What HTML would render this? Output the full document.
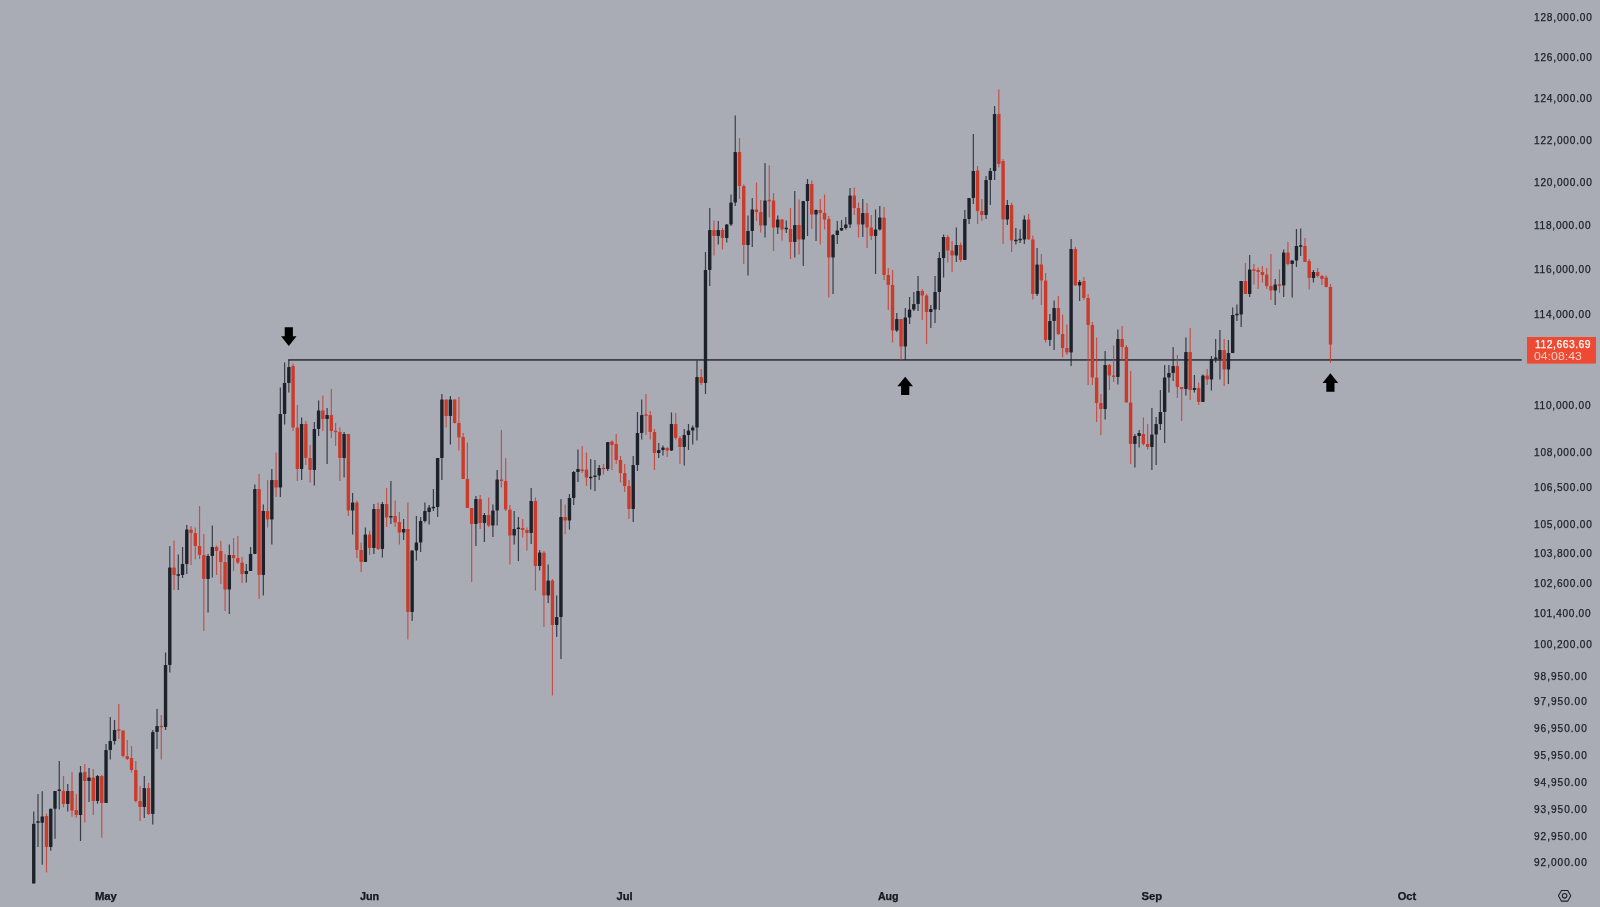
<!DOCTYPE html>
<html lang="en"><head><meta charset="utf-8"><title>BTC chart</title>
<style>html,body{margin:0;padding:0;background:#a9acb5;}body{width:1600px;height:907px;overflow:hidden;}svg{display:block;}text{font-family:"Liberation Sans",Arial,sans-serif;}</style></head><body>
<svg width="1600" height="907" viewBox="0 0 1600 907">
<defs><filter id="sf" x="-5%" y="-5%" width="110%" height="110%"><feGaussianBlur stdDeviation="0.55 0.35"/></filter><filter id="tf" x="-2%" y="-20%" width="104%" height="140%"><feGaussianBlur stdDeviation="0.28"/></filter></defs>
<rect width="1600" height="907" fill="#a9acb5"/>
<rect x="288.1" y="359.15" width="1233.6" height="1.55" fill="#2d303b"/>
<g filter="url(#sf)">
<g fill="#1e212b" opacity="0.8"><rect x="33.15" y="811.5" width="1.2" height="71.9"/><rect x="37.40" y="794.0" width="1.2" height="53.0"/><rect x="41.65" y="791.2" width="1.2" height="73.5"/><rect x="50.16" y="808.7" width="1.2" height="42.0"/><rect x="54.41" y="791.0" width="1.2" height="47.8"/><rect x="58.66" y="761.0" width="1.2" height="48.4"/><rect x="67.16" y="784.0" width="1.2" height="27.5"/><rect x="79.92" y="766.0" width="1.2" height="75.0"/><rect x="88.42" y="768.0" width="1.2" height="34.0"/><rect x="96.92" y="775.0" width="1.2" height="28.8"/><rect x="105.43" y="744.0" width="1.2" height="59.0"/><rect x="109.68" y="717.0" width="1.2" height="42.5"/><rect x="113.93" y="720.0" width="1.2" height="24.5"/><rect x="143.69" y="776.0" width="1.2" height="42.0"/><rect x="152.19" y="730.0" width="1.2" height="94.5"/><rect x="156.44" y="709.0" width="1.2" height="40.0"/><rect x="164.95" y="652.5" width="1.2" height="77.5"/><rect x="169.20" y="546.0" width="1.2" height="126.5"/><rect x="177.70" y="554.5" width="1.2" height="35.5"/><rect x="181.95" y="547.0" width="1.2" height="31.0"/><rect x="186.20" y="525.0" width="1.2" height="49.0"/><rect x="207.46" y="554.0" width="1.2" height="58.5"/><rect x="211.71" y="525.5" width="1.2" height="52.0"/><rect x="228.72" y="544.5" width="1.2" height="69.5"/><rect x="245.72" y="564.0" width="1.2" height="18.5"/><rect x="249.98" y="547.0" width="1.2" height="24.0"/><rect x="254.23" y="484.5" width="1.2" height="69.5"/><rect x="262.73" y="504.5" width="1.2" height="91.0"/><rect x="271.23" y="469.0" width="1.2" height="75.5"/><rect x="279.74" y="387.5" width="1.2" height="109.5"/><rect x="283.99" y="362.5" width="1.2" height="62.0"/><rect x="288.24" y="360.0" width="1.2" height="32.5"/><rect x="300.99" y="417.5" width="1.2" height="62.5"/><rect x="313.75" y="422.0" width="1.2" height="63.5"/><rect x="318.00" y="400.5" width="1.2" height="35.5"/><rect x="326.50" y="408.0" width="1.2" height="56.0"/><rect x="343.51" y="432.0" width="1.2" height="45.5"/><rect x="352.01" y="493.0" width="1.2" height="41.5"/><rect x="364.77" y="527.5" width="1.2" height="34.5"/><rect x="373.27" y="504.0" width="1.2" height="50.0"/><rect x="381.77" y="502.0" width="1.2" height="55.5"/><rect x="390.28" y="481.0" width="1.2" height="43.0"/><rect x="403.03" y="519.0" width="1.2" height="21.0"/><rect x="411.53" y="550.5" width="1.2" height="70.5"/><rect x="415.78" y="516.0" width="1.2" height="44.5"/><rect x="420.04" y="517.0" width="1.2" height="35.0"/><rect x="424.29" y="502.5" width="1.2" height="20.0"/><rect x="428.54" y="505.0" width="1.2" height="19.5"/><rect x="432.79" y="489.0" width="1.2" height="22.0"/><rect x="437.04" y="458.0" width="1.2" height="59.0"/><rect x="441.29" y="394.0" width="1.2" height="86.0"/><rect x="449.80" y="396.0" width="1.2" height="48.5"/><rect x="475.31" y="496.0" width="1.2" height="50.0"/><rect x="483.81" y="513.0" width="1.2" height="29.0"/><rect x="492.31" y="504.5" width="1.2" height="32.5"/><rect x="496.56" y="470.0" width="1.2" height="55.5"/><rect x="513.57" y="511.0" width="1.2" height="33.5"/><rect x="517.82" y="517.0" width="1.2" height="44.0"/><rect x="530.58" y="488.0" width="1.2" height="56.0"/><rect x="539.08" y="550.0" width="1.2" height="20.5"/><rect x="547.58" y="564.5" width="1.2" height="38.5"/><rect x="556.08" y="595.5" width="1.2" height="41.5"/><rect x="560.34" y="499.0" width="1.2" height="160.0"/><rect x="568.84" y="494.0" width="1.2" height="35.5"/><rect x="573.09" y="471.0" width="1.2" height="34.0"/><rect x="577.34" y="449.5" width="1.2" height="32.5"/><rect x="590.10" y="459.0" width="1.2" height="30.5"/><rect x="594.35" y="460.0" width="1.2" height="31.0"/><rect x="598.60" y="465.0" width="1.2" height="15.0"/><rect x="607.10" y="442.0" width="1.2" height="29.0"/><rect x="632.61" y="456.0" width="1.2" height="66.0"/><rect x="636.86" y="412.0" width="1.2" height="59.0"/><rect x="641.11" y="399.5" width="1.2" height="40.0"/><rect x="658.12" y="443.0" width="1.2" height="15.0"/><rect x="662.37" y="445.5" width="1.2" height="10.0"/><rect x="670.88" y="412.5" width="1.2" height="38.5"/><rect x="683.63" y="429.0" width="1.2" height="36.5"/><rect x="687.88" y="424.0" width="1.2" height="26.0"/><rect x="692.13" y="425.5" width="1.2" height="19.0"/><rect x="696.38" y="360.5" width="1.2" height="80.0"/><rect x="704.89" y="252.0" width="1.2" height="142.0"/><rect x="709.14" y="208.0" width="1.2" height="78.0"/><rect x="717.64" y="221.0" width="1.2" height="23.5"/><rect x="726.14" y="224.0" width="1.2" height="18.5"/><rect x="730.40" y="194.5" width="1.2" height="31.5"/><rect x="734.65" y="115.5" width="1.2" height="90.5"/><rect x="747.40" y="215.5" width="1.2" height="60.0"/><rect x="751.65" y="198.0" width="1.2" height="49.0"/><rect x="764.41" y="163.0" width="1.2" height="74.5"/><rect x="777.16" y="215.5" width="1.2" height="18.5"/><rect x="785.67" y="220.5" width="1.2" height="12.5"/><rect x="794.17" y="191.0" width="1.2" height="66.5"/><rect x="802.67" y="201.0" width="1.2" height="65.0"/><rect x="806.92" y="179.0" width="1.2" height="57.0"/><rect x="815.43" y="209.5" width="1.2" height="31.5"/><rect x="832.43" y="234.0" width="1.2" height="60.0"/><rect x="836.68" y="221.0" width="1.2" height="23.0"/><rect x="840.93" y="220.0" width="1.2" height="11.0"/><rect x="845.19" y="217.0" width="1.2" height="12.5"/><rect x="849.44" y="188.0" width="1.2" height="40.0"/><rect x="862.19" y="199.0" width="1.2" height="38.0"/><rect x="874.95" y="209.5" width="1.2" height="64.5"/><rect x="879.20" y="206.0" width="1.2" height="24.5"/><rect x="896.20" y="313.0" width="1.2" height="19.0"/><rect x="904.71" y="308.0" width="1.2" height="52.0"/><rect x="908.96" y="297.0" width="1.2" height="27.0"/><rect x="913.21" y="292.0" width="1.2" height="19.0"/><rect x="917.46" y="276.0" width="1.2" height="35.0"/><rect x="930.22" y="305.0" width="1.2" height="23.0"/><rect x="934.47" y="276.0" width="1.2" height="47.0"/><rect x="938.72" y="252.0" width="1.2" height="58.0"/><rect x="942.97" y="234.5" width="1.2" height="43.0"/><rect x="955.73" y="227.5" width="1.2" height="34.5"/><rect x="964.23" y="210.0" width="1.2" height="50.0"/><rect x="968.48" y="198.0" width="1.2" height="26.0"/><rect x="972.73" y="134.0" width="1.2" height="70.0"/><rect x="985.49" y="176.0" width="1.2" height="43.0"/><rect x="989.74" y="168.0" width="1.2" height="37.0"/><rect x="993.99" y="106.0" width="1.2" height="74.0"/><rect x="1006.74" y="200.0" width="1.2" height="25.0"/><rect x="1015.25" y="228.0" width="1.2" height="16.5"/><rect x="1019.50" y="229.5" width="1.2" height="13.5"/><rect x="1023.75" y="215.5" width="1.2" height="28.5"/><rect x="1036.50" y="248.0" width="1.2" height="48.0"/><rect x="1049.26" y="314.0" width="1.2" height="32.0"/><rect x="1053.51" y="300.5" width="1.2" height="49.5"/><rect x="1070.52" y="239.0" width="1.2" height="127.0"/><rect x="1079.02" y="280.0" width="1.2" height="21.0"/><rect x="1104.53" y="351.0" width="1.2" height="68.5"/><rect x="1117.28" y="329.5" width="1.2" height="55.0"/><rect x="1134.29" y="434.0" width="1.2" height="33.5"/><rect x="1138.54" y="430.0" width="1.2" height="17.5"/><rect x="1151.29" y="408.0" width="1.2" height="62.0"/><rect x="1155.55" y="417.0" width="1.2" height="48.0"/><rect x="1159.80" y="390.0" width="1.2" height="40.0"/><rect x="1164.05" y="365.0" width="1.2" height="78.0"/><rect x="1168.30" y="365.0" width="1.2" height="27.5"/><rect x="1172.55" y="347.0" width="1.2" height="34.0"/><rect x="1185.31" y="337.5" width="1.2" height="58.0"/><rect x="1193.81" y="375.0" width="1.2" height="17.5"/><rect x="1202.31" y="374.5" width="1.2" height="27.5"/><rect x="1210.82" y="356.0" width="1.2" height="34.5"/><rect x="1215.07" y="339.0" width="1.2" height="23.5"/><rect x="1219.32" y="330.0" width="1.2" height="49.5"/><rect x="1227.82" y="340.0" width="1.2" height="44.0"/><rect x="1232.07" y="307.5" width="1.2" height="45.5"/><rect x="1236.32" y="304.5" width="1.2" height="16.5"/><rect x="1240.58" y="281.0" width="1.2" height="46.0"/><rect x="1249.08" y="255.0" width="1.2" height="42.0"/><rect x="1274.59" y="279.0" width="1.2" height="26.0"/><rect x="1283.09" y="249.5" width="1.2" height="47.5"/><rect x="1291.59" y="260.5" width="1.2" height="37.0"/><rect x="1295.85" y="229.0" width="1.2" height="38.0"/><rect x="1300.10" y="228.5" width="1.2" height="27.5"/><rect x="1312.85" y="270.0" width="1.2" height="12.5"/></g>
<g fill="#cb3a2c" opacity="0.8"><rect x="45.90" y="813.6" width="1.2" height="58.8"/><rect x="62.91" y="776.0" width="1.2" height="31.3"/><rect x="71.41" y="772.0" width="1.2" height="44.7"/><rect x="75.67" y="794.0" width="1.2" height="23.8"/><rect x="84.17" y="764.0" width="1.2" height="58.7"/><rect x="92.67" y="769.0" width="1.2" height="46.0"/><rect x="101.17" y="775.0" width="1.2" height="62.7"/><rect x="118.18" y="704.0" width="1.2" height="35.0"/><rect x="122.43" y="730.5" width="1.2" height="27.0"/><rect x="126.68" y="740.0" width="1.2" height="20.0"/><rect x="130.93" y="746.0" width="1.2" height="26.5"/><rect x="135.19" y="761.0" width="1.2" height="41.5"/><rect x="139.44" y="786.0" width="1.2" height="35.0"/><rect x="147.94" y="783.0" width="1.2" height="32.0"/><rect x="160.70" y="715.0" width="1.2" height="44.5"/><rect x="173.45" y="540.5" width="1.2" height="49.5"/><rect x="190.46" y="526.0" width="1.2" height="39.0"/><rect x="194.71" y="527.5" width="1.2" height="32.0"/><rect x="198.96" y="506.0" width="1.2" height="53.0"/><rect x="203.21" y="534.0" width="1.2" height="97.0"/><rect x="215.96" y="545.5" width="1.2" height="29.5"/><rect x="220.22" y="541.0" width="1.2" height="43.0"/><rect x="224.47" y="554.0" width="1.2" height="57.0"/><rect x="232.97" y="538.0" width="1.2" height="33.0"/><rect x="237.22" y="536.0" width="1.2" height="28.0"/><rect x="241.47" y="557.0" width="1.2" height="26.0"/><rect x="258.48" y="474.0" width="1.2" height="125.0"/><rect x="266.98" y="480.0" width="1.2" height="47.5"/><rect x="275.49" y="452.5" width="1.2" height="44.5"/><rect x="292.49" y="363.6" width="1.2" height="67.4"/><rect x="296.74" y="405.0" width="1.2" height="76.0"/><rect x="305.25" y="421.0" width="1.2" height="44.0"/><rect x="309.50" y="445.0" width="1.2" height="37.5"/><rect x="322.25" y="395.5" width="1.2" height="35.5"/><rect x="330.75" y="389.0" width="1.2" height="49.0"/><rect x="335.01" y="423.0" width="1.2" height="23.0"/><rect x="339.26" y="427.5" width="1.2" height="53.5"/><rect x="347.76" y="434.0" width="1.2" height="82.0"/><rect x="356.26" y="500.5" width="1.2" height="57.5"/><rect x="360.52" y="542.5" width="1.2" height="29.5"/><rect x="369.02" y="531.0" width="1.2" height="24.0"/><rect x="377.52" y="502.5" width="1.2" height="47.5"/><rect x="386.02" y="488.0" width="1.2" height="39.0"/><rect x="394.53" y="500.5" width="1.2" height="26.5"/><rect x="398.78" y="512.0" width="1.2" height="32.5"/><rect x="407.28" y="502.5" width="1.2" height="137.0"/><rect x="445.55" y="399.5" width="1.2" height="28.0"/><rect x="454.05" y="399.5" width="1.2" height="24.0"/><rect x="458.30" y="397.0" width="1.2" height="53.5"/><rect x="462.55" y="433.0" width="1.2" height="46.0"/><rect x="466.80" y="442.5" width="1.2" height="65.5"/><rect x="471.05" y="508.0" width="1.2" height="74.0"/><rect x="479.56" y="495.0" width="1.2" height="34.0"/><rect x="488.06" y="497.5" width="1.2" height="29.5"/><rect x="500.81" y="430.0" width="1.2" height="57.5"/><rect x="505.07" y="458.0" width="1.2" height="53.0"/><rect x="509.32" y="505.0" width="1.2" height="59.5"/><rect x="522.07" y="519.0" width="1.2" height="18.5"/><rect x="526.32" y="527.5" width="1.2" height="23.0"/><rect x="534.83" y="497.5" width="1.2" height="93.0"/><rect x="543.33" y="551.0" width="1.2" height="76.0"/><rect x="551.83" y="579.0" width="1.2" height="116.5"/><rect x="564.59" y="504.5" width="1.2" height="29.5"/><rect x="581.59" y="446.0" width="1.2" height="27.0"/><rect x="585.85" y="452.5" width="1.2" height="33.5"/><rect x="602.85" y="464.0" width="1.2" height="10.5"/><rect x="611.35" y="440.5" width="1.2" height="29.5"/><rect x="615.61" y="434.0" width="1.2" height="30.0"/><rect x="619.86" y="456.0" width="1.2" height="26.5"/><rect x="624.11" y="464.0" width="1.2" height="28.0"/><rect x="628.36" y="480.0" width="1.2" height="39.0"/><rect x="645.37" y="394.0" width="1.2" height="41.0"/><rect x="649.62" y="411.0" width="1.2" height="28.5"/><rect x="653.87" y="429.0" width="1.2" height="41.0"/><rect x="666.62" y="447.0" width="1.2" height="10.0"/><rect x="675.13" y="413.0" width="1.2" height="26.5"/><rect x="679.38" y="436.0" width="1.2" height="28.0"/><rect x="700.64" y="369.0" width="1.2" height="16.0"/><rect x="713.39" y="220.5" width="1.2" height="35.0"/><rect x="721.89" y="228.0" width="1.2" height="21.5"/><rect x="738.90" y="138.0" width="1.2" height="61.0"/><rect x="743.15" y="184.5" width="1.2" height="79.5"/><rect x="755.90" y="182.5" width="1.2" height="38.5"/><rect x="760.16" y="200.0" width="1.2" height="32.5"/><rect x="768.66" y="165.5" width="1.2" height="52.0"/><rect x="772.91" y="193.0" width="1.2" height="58.0"/><rect x="781.41" y="219.0" width="1.2" height="21.5"/><rect x="789.92" y="208.0" width="1.2" height="51.0"/><rect x="798.42" y="199.5" width="1.2" height="55.0"/><rect x="811.17" y="180.5" width="1.2" height="48.5"/><rect x="819.68" y="199.0" width="1.2" height="45.5"/><rect x="823.93" y="194.5" width="1.2" height="35.0"/><rect x="828.18" y="216.0" width="1.2" height="81.5"/><rect x="853.69" y="187.5" width="1.2" height="27.5"/><rect x="857.94" y="202.5" width="1.2" height="35.0"/><rect x="866.44" y="203.0" width="1.2" height="45.0"/><rect x="870.70" y="215.0" width="1.2" height="25.0"/><rect x="883.45" y="207.0" width="1.2" height="73.0"/><rect x="887.70" y="268.0" width="1.2" height="42.0"/><rect x="891.95" y="270.0" width="1.2" height="72.5"/><rect x="900.46" y="319.0" width="1.2" height="41.0"/><rect x="921.71" y="289.0" width="1.2" height="31.0"/><rect x="925.97" y="294.0" width="1.2" height="50.0"/><rect x="947.22" y="235.0" width="1.2" height="27.5"/><rect x="951.47" y="241.0" width="1.2" height="31.0"/><rect x="959.98" y="242.5" width="1.2" height="19.5"/><rect x="976.98" y="166.0" width="1.2" height="58.0"/><rect x="981.23" y="199.0" width="1.2" height="22.0"/><rect x="998.24" y="89.5" width="1.2" height="78.0"/><rect x="1002.49" y="159.0" width="1.2" height="85.0"/><rect x="1011.00" y="202.5" width="1.2" height="49.5"/><rect x="1028.00" y="214.0" width="1.2" height="25.5"/><rect x="1032.25" y="235.5" width="1.2" height="64.0"/><rect x="1040.76" y="254.0" width="1.2" height="51.0"/><rect x="1045.01" y="273.0" width="1.2" height="69.5"/><rect x="1057.76" y="296.0" width="1.2" height="39.0"/><rect x="1062.01" y="314.5" width="1.2" height="43.0"/><rect x="1066.26" y="324.5" width="1.2" height="30.5"/><rect x="1074.77" y="247.0" width="1.2" height="38.5"/><rect x="1083.27" y="277.0" width="1.2" height="23.0"/><rect x="1087.52" y="294.0" width="1.2" height="91.0"/><rect x="1091.77" y="322.0" width="1.2" height="63.0"/><rect x="1096.03" y="337.5" width="1.2" height="84.5"/><rect x="1100.28" y="394.0" width="1.2" height="41.0"/><rect x="1108.78" y="364.0" width="1.2" height="26.0"/><rect x="1113.03" y="345.5" width="1.2" height="36.5"/><rect x="1121.53" y="326.0" width="1.2" height="34.0"/><rect x="1125.79" y="345.0" width="1.2" height="57.5"/><rect x="1130.04" y="371.0" width="1.2" height="93.0"/><rect x="1142.79" y="417.5" width="1.2" height="28.0"/><rect x="1147.04" y="424.0" width="1.2" height="25.5"/><rect x="1176.80" y="355.0" width="1.2" height="43.0"/><rect x="1181.06" y="387.0" width="1.2" height="34.0"/><rect x="1189.56" y="328.0" width="1.2" height="72.0"/><rect x="1198.06" y="382.5" width="1.2" height="22.5"/><rect x="1206.56" y="369.0" width="1.2" height="16.0"/><rect x="1223.57" y="339.0" width="1.2" height="47.0"/><rect x="1244.83" y="263.0" width="1.2" height="31.0"/><rect x="1253.33" y="264.0" width="1.2" height="20.5"/><rect x="1257.58" y="267.5" width="1.2" height="21.5"/><rect x="1261.83" y="266.0" width="1.2" height="16.5"/><rect x="1266.09" y="268.0" width="1.2" height="21.0"/><rect x="1270.34" y="254.0" width="1.2" height="46.0"/><rect x="1278.84" y="269.5" width="1.2" height="23.5"/><rect x="1287.34" y="242.0" width="1.2" height="23.5"/><rect x="1304.35" y="238.0" width="1.2" height="24.0"/><rect x="1308.60" y="259.0" width="1.2" height="30.5"/><rect x="1317.10" y="268.0" width="1.2" height="9.5"/><rect x="1321.35" y="275.0" width="1.2" height="10.0"/><rect x="1325.61" y="275.5" width="1.2" height="12.0"/><rect x="1329.86" y="284.0" width="1.2" height="78.8"/></g>
<g fill="#1e212b"><rect x="32.05" y="823.7" width="3.4" height="59.7" rx="0.4"/><rect x="36.30" y="821.2" width="3.4" height="1.6" rx="0.4"/><rect x="40.55" y="816.4" width="3.4" height="6.3" rx="0.4"/><rect x="49.06" y="808.7" width="3.4" height="38.3" rx="0.4"/><rect x="53.31" y="791.0" width="3.4" height="17.7" rx="0.4"/><rect x="57.56" y="789.4" width="3.4" height="1.6" rx="0.4"/><rect x="66.06" y="791.0" width="3.4" height="13.0" rx="0.4"/><rect x="78.82" y="772.5" width="3.4" height="42.5" rx="0.4"/><rect x="87.32" y="777.5" width="3.4" height="3.5" rx="0.4"/><rect x="95.82" y="776.0" width="3.4" height="25.0" rx="0.4"/><rect x="104.33" y="750.0" width="3.4" height="53.0" rx="0.4"/><rect x="108.58" y="741.0" width="3.4" height="9.0" rx="0.4"/><rect x="112.83" y="730.0" width="3.4" height="11.0" rx="0.4"/><rect x="142.59" y="788.0" width="3.4" height="19.0" rx="0.4"/><rect x="151.09" y="732.0" width="3.4" height="82.0" rx="0.4"/><rect x="155.34" y="726.0" width="3.4" height="6.0" rx="0.4"/><rect x="163.85" y="665.0" width="3.4" height="62.0" rx="0.4"/><rect x="168.10" y="567.5" width="3.4" height="97.5" rx="0.4"/><rect x="176.60" y="574.2" width="3.4" height="1.6" rx="0.4"/><rect x="180.85" y="564.0" width="3.4" height="11.0" rx="0.4"/><rect x="185.10" y="529.5" width="3.4" height="34.5" rx="0.4"/><rect x="206.36" y="556.0" width="3.4" height="23.0" rx="0.4"/><rect x="210.61" y="547.0" width="3.4" height="9.0" rx="0.4"/><rect x="227.62" y="555.0" width="3.4" height="34.5" rx="0.4"/><rect x="244.62" y="571.0" width="3.4" height="3.0" rx="0.4"/><rect x="248.88" y="554.0" width="3.4" height="17.0" rx="0.4"/><rect x="253.13" y="489.0" width="3.4" height="65.0" rx="0.4"/><rect x="261.63" y="511.0" width="3.4" height="64.0" rx="0.4"/><rect x="270.13" y="480.0" width="3.4" height="39.5" rx="0.4"/><rect x="278.64" y="414.0" width="3.4" height="73.5" rx="0.4"/><rect x="282.89" y="383.0" width="3.4" height="31.0" rx="0.4"/><rect x="287.14" y="367.0" width="3.4" height="16.0" rx="0.4"/><rect x="299.89" y="424.0" width="3.4" height="45.0" rx="0.4"/><rect x="312.65" y="429.0" width="3.4" height="41.0" rx="0.4"/><rect x="316.90" y="410.5" width="3.4" height="18.5" rx="0.4"/><rect x="325.40" y="415.0" width="3.4" height="4.0" rx="0.4"/><rect x="342.41" y="434.0" width="3.4" height="24.0" rx="0.4"/><rect x="350.91" y="502.5" width="3.4" height="8.0" rx="0.4"/><rect x="363.67" y="534.5" width="3.4" height="27.5" rx="0.4"/><rect x="372.17" y="509.0" width="3.4" height="39.0" rx="0.4"/><rect x="380.67" y="504.0" width="3.4" height="45.0" rx="0.4"/><rect x="389.18" y="516.0" width="3.4" height="1.6" rx="0.4"/><rect x="401.93" y="529.0" width="3.4" height="3.5" rx="0.4"/><rect x="410.43" y="550.5" width="3.4" height="61.5" rx="0.4"/><rect x="414.69" y="542.5" width="3.4" height="8.0" rx="0.4"/><rect x="418.94" y="521.0" width="3.4" height="21.5" rx="0.4"/><rect x="423.19" y="511.0" width="3.4" height="10.0" rx="0.4"/><rect x="427.44" y="507.5" width="3.4" height="4.5" rx="0.4"/><rect x="431.69" y="506.7" width="3.4" height="1.6" rx="0.4"/><rect x="435.94" y="458.0" width="3.4" height="49.0" rx="0.4"/><rect x="440.19" y="399.5" width="3.4" height="58.5" rx="0.4"/><rect x="448.70" y="399.5" width="3.4" height="16.5" rx="0.4"/><rect x="474.21" y="499.0" width="3.4" height="25.0" rx="0.4"/><rect x="482.71" y="515.0" width="3.4" height="8.0" rx="0.4"/><rect x="491.21" y="510.5" width="3.4" height="15.0" rx="0.4"/><rect x="495.46" y="479.5" width="3.4" height="31.0" rx="0.4"/><rect x="512.47" y="529.0" width="3.4" height="6.5" rx="0.4"/><rect x="516.72" y="527.5" width="3.4" height="1.6" rx="0.4"/><rect x="529.48" y="501.0" width="3.4" height="32.0" rx="0.4"/><rect x="537.98" y="552.5" width="3.4" height="13.5" rx="0.4"/><rect x="546.48" y="580.5" width="3.4" height="15.0" rx="0.4"/><rect x="554.98" y="617.0" width="3.4" height="8.0" rx="0.4"/><rect x="559.24" y="517.0" width="3.4" height="100.0" rx="0.4"/><rect x="567.74" y="498.0" width="3.4" height="22.5" rx="0.4"/><rect x="571.99" y="472.0" width="3.4" height="26.0" rx="0.4"/><rect x="576.24" y="469.0" width="3.4" height="3.0" rx="0.4"/><rect x="589.00" y="476.7" width="3.4" height="1.6" rx="0.4"/><rect x="593.25" y="475.4" width="3.4" height="1.6" rx="0.4"/><rect x="597.50" y="468.0" width="3.4" height="7.5" rx="0.4"/><rect x="606.00" y="442.0" width="3.4" height="27.0" rx="0.4"/><rect x="631.51" y="465.0" width="3.4" height="44.0" rx="0.4"/><rect x="635.76" y="433.0" width="3.4" height="32.0" rx="0.4"/><rect x="640.01" y="415.0" width="3.4" height="18.0" rx="0.4"/><rect x="657.02" y="450.0" width="3.4" height="3.0" rx="0.4"/><rect x="661.27" y="447.5" width="3.4" height="2.5" rx="0.4"/><rect x="669.77" y="424.0" width="3.4" height="26.5" rx="0.4"/><rect x="682.53" y="435.0" width="3.4" height="12.0" rx="0.4"/><rect x="686.78" y="430.5" width="3.4" height="4.5" rx="0.4"/><rect x="691.03" y="427.5" width="3.4" height="3.0" rx="0.4"/><rect x="695.28" y="377.0" width="3.4" height="50.5" rx="0.4"/><rect x="703.79" y="270.0" width="3.4" height="113.0" rx="0.4"/><rect x="708.04" y="230.0" width="3.4" height="40.0" rx="0.4"/><rect x="716.54" y="230.0" width="3.4" height="6.0" rx="0.4"/><rect x="725.04" y="224.5" width="3.4" height="13.5" rx="0.4"/><rect x="729.30" y="202.5" width="3.4" height="22.0" rx="0.4"/><rect x="733.55" y="152.0" width="3.4" height="50.5" rx="0.4"/><rect x="746.30" y="231.0" width="3.4" height="14.0" rx="0.4"/><rect x="750.55" y="209.5" width="3.4" height="21.5" rx="0.4"/><rect x="763.31" y="200.5" width="3.4" height="25.0" rx="0.4"/><rect x="776.06" y="219.5" width="3.4" height="8.0" rx="0.4"/><rect x="784.57" y="227.7" width="3.4" height="1.6" rx="0.4"/><rect x="793.07" y="225.0" width="3.4" height="17.0" rx="0.4"/><rect x="801.57" y="201.0" width="3.4" height="38.5" rx="0.4"/><rect x="805.82" y="184.0" width="3.4" height="17.0" rx="0.4"/><rect x="814.33" y="210.0" width="3.4" height="4.5" rx="0.4"/><rect x="831.33" y="235.0" width="3.4" height="22.5" rx="0.4"/><rect x="835.58" y="230.5" width="3.4" height="4.5" rx="0.4"/><rect x="839.83" y="228.0" width="3.4" height="2.5" rx="0.4"/><rect x="844.09" y="224.5" width="3.4" height="3.5" rx="0.4"/><rect x="848.34" y="195.5" width="3.4" height="29.0" rx="0.4"/><rect x="861.09" y="213.0" width="3.4" height="11.5" rx="0.4"/><rect x="873.85" y="229.5" width="3.4" height="6.5" rx="0.4"/><rect x="878.10" y="217.5" width="3.4" height="12.0" rx="0.4"/><rect x="895.10" y="319.0" width="3.4" height="11.5" rx="0.4"/><rect x="903.61" y="317.5" width="3.4" height="29.1" rx="0.4"/><rect x="907.86" y="309.5" width="3.4" height="8.0" rx="0.4"/><rect x="912.11" y="304.0" width="3.4" height="5.5" rx="0.4"/><rect x="916.36" y="291.0" width="3.4" height="13.0" rx="0.4"/><rect x="929.12" y="309.0" width="3.4" height="3.0" rx="0.4"/><rect x="933.37" y="292.0" width="3.4" height="17.5" rx="0.4"/><rect x="937.62" y="258.0" width="3.4" height="34.0" rx="0.4"/><rect x="941.87" y="237.0" width="3.4" height="21.0" rx="0.4"/><rect x="954.63" y="245.0" width="3.4" height="10.5" rx="0.4"/><rect x="963.13" y="219.0" width="3.4" height="41.0" rx="0.4"/><rect x="967.38" y="198.0" width="3.4" height="21.0" rx="0.4"/><rect x="971.63" y="171.0" width="3.4" height="27.0" rx="0.4"/><rect x="984.39" y="180.0" width="3.4" height="35.0" rx="0.4"/><rect x="988.64" y="171.0" width="3.4" height="9.0" rx="0.4"/><rect x="992.89" y="114.0" width="3.4" height="57.0" rx="0.4"/><rect x="1005.64" y="205.0" width="3.4" height="14.5" rx="0.4"/><rect x="1014.15" y="239.7" width="3.4" height="1.6" rx="0.4"/><rect x="1018.40" y="238.7" width="3.4" height="1.6" rx="0.4"/><rect x="1022.65" y="219.5" width="3.4" height="20.0" rx="0.4"/><rect x="1035.40" y="264.5" width="3.4" height="29.5" rx="0.4"/><rect x="1048.16" y="321.0" width="3.4" height="19.0" rx="0.4"/><rect x="1052.41" y="308.0" width="3.4" height="13.0" rx="0.4"/><rect x="1069.42" y="249.0" width="3.4" height="103.5" rx="0.4"/><rect x="1077.92" y="282.0" width="3.4" height="3.5" rx="0.4"/><rect x="1103.43" y="365.0" width="3.4" height="44.0" rx="0.4"/><rect x="1116.18" y="339.0" width="3.4" height="38.0" rx="0.4"/><rect x="1133.19" y="436.0" width="3.4" height="8.0" rx="0.4"/><rect x="1137.44" y="433.0" width="3.4" height="3.0" rx="0.4"/><rect x="1150.19" y="434.5" width="3.4" height="12.5" rx="0.4"/><rect x="1154.45" y="424.0" width="3.4" height="10.5" rx="0.4"/><rect x="1158.70" y="412.0" width="3.4" height="12.0" rx="0.4"/><rect x="1162.95" y="377.5" width="3.4" height="34.5" rx="0.4"/><rect x="1167.20" y="373.0" width="3.4" height="4.5" rx="0.4"/><rect x="1171.45" y="366.0" width="3.4" height="7.0" rx="0.4"/><rect x="1184.21" y="352.0" width="3.4" height="37.0" rx="0.4"/><rect x="1192.71" y="388.0" width="3.4" height="2.0" rx="0.4"/><rect x="1201.21" y="375.5" width="3.4" height="26.5" rx="0.4"/><rect x="1209.72" y="359.0" width="3.4" height="20.5" rx="0.4"/><rect x="1213.97" y="357.4" width="3.4" height="1.6" rx="0.4"/><rect x="1218.22" y="350.0" width="3.4" height="9.0" rx="0.4"/><rect x="1226.72" y="353.0" width="3.4" height="16.5" rx="0.4"/><rect x="1230.97" y="315.0" width="3.4" height="38.0" rx="0.4"/><rect x="1235.22" y="313.7" width="3.4" height="1.6" rx="0.4"/><rect x="1239.48" y="281.0" width="3.4" height="33.5" rx="0.4"/><rect x="1247.98" y="269.5" width="3.4" height="24.5" rx="0.4"/><rect x="1273.49" y="284.5" width="3.4" height="6.0" rx="0.4"/><rect x="1281.99" y="252.5" width="3.4" height="33.0" rx="0.4"/><rect x="1290.49" y="260.5" width="3.4" height="3.5" rx="0.4"/><rect x="1294.75" y="246.0" width="3.4" height="14.5" rx="0.4"/><rect x="1299.00" y="245.2" width="3.4" height="1.6" rx="0.4"/><rect x="1311.75" y="272.0" width="3.4" height="6.0" rx="0.4"/></g>
<g fill="#cb3a2c"><rect x="44.80" y="816.0" width="3.4" height="31.0" rx="0.4"/><rect x="61.81" y="791.0" width="3.4" height="13.0" rx="0.4"/><rect x="70.31" y="791.0" width="3.4" height="19.5" rx="0.4"/><rect x="74.56" y="810.0" width="3.4" height="5.0" rx="0.4"/><rect x="83.07" y="772.0" width="3.4" height="9.0" rx="0.4"/><rect x="91.57" y="777.5" width="3.4" height="23.5" rx="0.4"/><rect x="100.07" y="776.0" width="3.4" height="27.0" rx="0.4"/><rect x="117.08" y="729.2" width="3.4" height="1.6" rx="0.4"/><rect x="121.33" y="730.5" width="3.4" height="25.5" rx="0.4"/><rect x="125.58" y="756.0" width="3.4" height="3.0" rx="0.4"/><rect x="129.83" y="758.0" width="3.4" height="12.0" rx="0.4"/><rect x="134.09" y="770.0" width="3.4" height="31.0" rx="0.4"/><rect x="138.34" y="801.0" width="3.4" height="6.0" rx="0.4"/><rect x="146.84" y="788.0" width="3.4" height="26.0" rx="0.4"/><rect x="159.60" y="725.7" width="3.4" height="1.6" rx="0.4"/><rect x="172.35" y="567.5" width="3.4" height="7.5" rx="0.4"/><rect x="189.36" y="529.5" width="3.4" height="3.5" rx="0.4"/><rect x="193.61" y="533.0" width="3.4" height="13.0" rx="0.4"/><rect x="197.86" y="546.0" width="3.4" height="9.0" rx="0.4"/><rect x="202.11" y="555.0" width="3.4" height="24.0" rx="0.4"/><rect x="214.86" y="547.0" width="3.4" height="4.0" rx="0.4"/><rect x="219.12" y="551.0" width="3.4" height="11.0" rx="0.4"/><rect x="223.37" y="562.0" width="3.4" height="27.5" rx="0.4"/><rect x="231.87" y="555.0" width="3.4" height="3.0" rx="0.4"/><rect x="236.12" y="558.0" width="3.4" height="4.5" rx="0.4"/><rect x="240.37" y="562.5" width="3.4" height="11.5" rx="0.4"/><rect x="257.38" y="489.0" width="3.4" height="86.0" rx="0.4"/><rect x="265.88" y="511.0" width="3.4" height="8.5" rx="0.4"/><rect x="274.39" y="480.0" width="3.4" height="7.5" rx="0.4"/><rect x="291.39" y="366.0" width="3.4" height="61.5" rx="0.4"/><rect x="295.64" y="427.5" width="3.4" height="41.5" rx="0.4"/><rect x="304.15" y="424.0" width="3.4" height="34.0" rx="0.4"/><rect x="308.40" y="458.0" width="3.4" height="12.0" rx="0.4"/><rect x="321.15" y="410.5" width="3.4" height="8.5" rx="0.4"/><rect x="329.66" y="415.0" width="3.4" height="16.0" rx="0.4"/><rect x="333.91" y="430.7" width="3.4" height="1.6" rx="0.4"/><rect x="338.16" y="432.0" width="3.4" height="26.0" rx="0.4"/><rect x="346.66" y="434.0" width="3.4" height="76.5" rx="0.4"/><rect x="355.16" y="502.5" width="3.4" height="47.5" rx="0.4"/><rect x="359.42" y="550.0" width="3.4" height="12.0" rx="0.4"/><rect x="367.92" y="534.5" width="3.4" height="13.5" rx="0.4"/><rect x="376.42" y="509.0" width="3.4" height="40.0" rx="0.4"/><rect x="384.92" y="504.0" width="3.4" height="13.5" rx="0.4"/><rect x="393.43" y="516.0" width="3.4" height="6.5" rx="0.4"/><rect x="397.68" y="522.0" width="3.4" height="10.5" rx="0.4"/><rect x="406.18" y="529.0" width="3.4" height="83.0" rx="0.4"/><rect x="444.45" y="399.5" width="3.4" height="16.5" rx="0.4"/><rect x="452.95" y="399.5" width="3.4" height="23.5" rx="0.4"/><rect x="457.20" y="423.0" width="3.4" height="14.5" rx="0.4"/><rect x="461.45" y="437.0" width="3.4" height="42.0" rx="0.4"/><rect x="465.70" y="479.0" width="3.4" height="29.0" rx="0.4"/><rect x="469.95" y="508.0" width="3.4" height="16.0" rx="0.4"/><rect x="478.46" y="499.0" width="3.4" height="24.0" rx="0.4"/><rect x="486.96" y="515.0" width="3.4" height="10.5" rx="0.4"/><rect x="499.72" y="479.4" width="3.4" height="1.6" rx="0.4"/><rect x="503.97" y="481.0" width="3.4" height="28.5" rx="0.4"/><rect x="508.22" y="509.5" width="3.4" height="26.0" rx="0.4"/><rect x="520.97" y="528.0" width="3.4" height="2.0" rx="0.4"/><rect x="525.22" y="530.0" width="3.4" height="3.0" rx="0.4"/><rect x="533.73" y="501.0" width="3.4" height="65.0" rx="0.4"/><rect x="542.23" y="552.5" width="3.4" height="43.0" rx="0.4"/><rect x="550.73" y="580.5" width="3.4" height="44.5" rx="0.4"/><rect x="563.49" y="517.0" width="3.4" height="3.5" rx="0.4"/><rect x="580.49" y="469.4" width="3.4" height="1.6" rx="0.4"/><rect x="584.75" y="469.5" width="3.4" height="8.0" rx="0.4"/><rect x="601.75" y="467.7" width="3.4" height="1.6" rx="0.4"/><rect x="610.25" y="441.5" width="3.4" height="3.5" rx="0.4"/><rect x="614.51" y="444.0" width="3.4" height="16.0" rx="0.4"/><rect x="618.76" y="460.0" width="3.4" height="13.0" rx="0.4"/><rect x="623.01" y="473.0" width="3.4" height="13.0" rx="0.4"/><rect x="627.26" y="486.0" width="3.4" height="23.0" rx="0.4"/><rect x="644.27" y="414.2" width="3.4" height="1.6" rx="0.4"/><rect x="648.52" y="415.0" width="3.4" height="17.0" rx="0.4"/><rect x="652.77" y="432.0" width="3.4" height="21.0" rx="0.4"/><rect x="665.52" y="448.0" width="3.4" height="2.5" rx="0.4"/><rect x="674.03" y="424.0" width="3.4" height="14.0" rx="0.4"/><rect x="678.28" y="438.0" width="3.4" height="9.0" rx="0.4"/><rect x="699.54" y="377.0" width="3.4" height="6.0" rx="0.4"/><rect x="712.29" y="230.0" width="3.4" height="6.0" rx="0.4"/><rect x="720.79" y="230.0" width="3.4" height="8.0" rx="0.4"/><rect x="737.80" y="152.0" width="3.4" height="34.0" rx="0.4"/><rect x="742.05" y="186.0" width="3.4" height="59.0" rx="0.4"/><rect x="754.80" y="209.5" width="3.4" height="2.5" rx="0.4"/><rect x="759.06" y="212.0" width="3.4" height="13.5" rx="0.4"/><rect x="767.56" y="199.7" width="3.4" height="1.6" rx="0.4"/><rect x="771.81" y="200.5" width="3.4" height="27.0" rx="0.4"/><rect x="780.31" y="219.5" width="3.4" height="10.0" rx="0.4"/><rect x="788.82" y="229.0" width="3.4" height="13.0" rx="0.4"/><rect x="797.32" y="225.0" width="3.4" height="14.5" rx="0.4"/><rect x="810.07" y="184.0" width="3.4" height="30.5" rx="0.4"/><rect x="818.58" y="210.0" width="3.4" height="3.0" rx="0.4"/><rect x="822.83" y="213.0" width="3.4" height="6.5" rx="0.4"/><rect x="827.08" y="219.0" width="3.4" height="38.5" rx="0.4"/><rect x="852.59" y="195.5" width="3.4" height="12.5" rx="0.4"/><rect x="856.84" y="208.0" width="3.4" height="16.5" rx="0.4"/><rect x="865.34" y="213.0" width="3.4" height="14.5" rx="0.4"/><rect x="869.60" y="227.5" width="3.4" height="8.5" rx="0.4"/><rect x="882.35" y="217.5" width="3.4" height="57.5" rx="0.4"/><rect x="886.60" y="275.0" width="3.4" height="10.0" rx="0.4"/><rect x="890.85" y="285.0" width="3.4" height="45.5" rx="0.4"/><rect x="899.36" y="319.0" width="3.4" height="27.6" rx="0.4"/><rect x="920.61" y="291.0" width="3.4" height="4.5" rx="0.4"/><rect x="924.87" y="295.5" width="3.4" height="16.5" rx="0.4"/><rect x="946.12" y="237.0" width="3.4" height="13.5" rx="0.4"/><rect x="950.37" y="250.5" width="3.4" height="5.0" rx="0.4"/><rect x="958.88" y="245.0" width="3.4" height="15.0" rx="0.4"/><rect x="975.88" y="170.5" width="3.4" height="40.5" rx="0.4"/><rect x="980.13" y="211.0" width="3.4" height="4.0" rx="0.4"/><rect x="997.14" y="114.0" width="3.4" height="50.0" rx="0.4"/><rect x="1001.39" y="161.0" width="3.4" height="58.5" rx="0.4"/><rect x="1009.89" y="205.0" width="3.4" height="35.5" rx="0.4"/><rect x="1026.90" y="219.5" width="3.4" height="20.0" rx="0.4"/><rect x="1031.15" y="239.5" width="3.4" height="54.5" rx="0.4"/><rect x="1039.66" y="264.5" width="3.4" height="16.0" rx="0.4"/><rect x="1043.91" y="280.5" width="3.4" height="59.5" rx="0.4"/><rect x="1056.66" y="308.0" width="3.4" height="26.0" rx="0.4"/><rect x="1060.91" y="334.0" width="3.4" height="14.0" rx="0.4"/><rect x="1065.16" y="348.0" width="3.4" height="4.5" rx="0.4"/><rect x="1073.67" y="249.0" width="3.4" height="36.5" rx="0.4"/><rect x="1082.17" y="281.0" width="3.4" height="17.0" rx="0.4"/><rect x="1086.42" y="298.0" width="3.4" height="27.0" rx="0.4"/><rect x="1090.67" y="325.0" width="3.4" height="52.5" rx="0.4"/><rect x="1094.92" y="377.5" width="3.4" height="25.5" rx="0.4"/><rect x="1099.18" y="403.0" width="3.4" height="6.0" rx="0.4"/><rect x="1107.68" y="365.0" width="3.4" height="10.5" rx="0.4"/><rect x="1111.93" y="375.4" width="3.4" height="1.6" rx="0.4"/><rect x="1120.43" y="339.0" width="3.4" height="8.0" rx="0.4"/><rect x="1124.69" y="347.0" width="3.4" height="55.5" rx="0.4"/><rect x="1128.94" y="402.5" width="3.4" height="41.5" rx="0.4"/><rect x="1141.69" y="434.0" width="3.4" height="10.0" rx="0.4"/><rect x="1145.94" y="444.0" width="3.4" height="3.0" rx="0.4"/><rect x="1175.70" y="366.0" width="3.4" height="21.0" rx="0.4"/><rect x="1179.95" y="387.0" width="3.4" height="2.0" rx="0.4"/><rect x="1188.46" y="352.0" width="3.4" height="38.0" rx="0.4"/><rect x="1196.96" y="388.0" width="3.4" height="14.0" rx="0.4"/><rect x="1205.46" y="375.5" width="3.4" height="4.0" rx="0.4"/><rect x="1222.47" y="350.0" width="3.4" height="19.5" rx="0.4"/><rect x="1243.73" y="281.0" width="3.4" height="13.0" rx="0.4"/><rect x="1252.23" y="269.2" width="3.4" height="1.6" rx="0.4"/><rect x="1256.48" y="270.0" width="3.4" height="2.0" rx="0.4"/><rect x="1260.73" y="272.0" width="3.4" height="3.0" rx="0.4"/><rect x="1264.98" y="274.5" width="3.4" height="11.5" rx="0.4"/><rect x="1269.24" y="286.0" width="3.4" height="4.5" rx="0.4"/><rect x="1277.74" y="284.2" width="3.4" height="1.6" rx="0.4"/><rect x="1286.24" y="252.5" width="3.4" height="11.5" rx="0.4"/><rect x="1303.25" y="246.0" width="3.4" height="16.0" rx="0.4"/><rect x="1307.50" y="261.0" width="3.4" height="17.0" rx="0.4"/><rect x="1316.00" y="272.0" width="3.4" height="4.0" rx="0.4"/><rect x="1320.25" y="276.0" width="3.4" height="3.0" rx="0.4"/><rect x="1324.51" y="277.5" width="3.4" height="9.5" rx="0.4"/><rect x="1328.76" y="287.0" width="3.4" height="57.6" rx="0.4"/></g>
</g>
<path d="M284.7 327.2h8.2v9h3.6l-7.7 9.8l-7.7 -9.8h3.6z" fill="#000"/>
<path d="M905.2 376.7l7.8 9.6h-3.7v8.8h-8.2v-8.8h-3.7z" fill="#000"/>
<path d="M1330.4 373.3l7.8 9.6h-3.7v8.8h-8.2v-8.8h-3.7z" fill="#000"/>
<g filter="url(#tf)">
<text x="1534" y="20.5" font-size="10.1" fill="#1b1e29" textLength="57.9" lengthAdjust="spacing" stroke="#1b1e29" stroke-width="0.25">128,000.00</text>
<text x="1534" y="60.8" font-size="10.1" fill="#1b1e29" textLength="57.9" lengthAdjust="spacing" stroke="#1b1e29" stroke-width="0.25">126,000.00</text>
<text x="1534" y="102.3" font-size="10.1" fill="#1b1e29" textLength="57.9" lengthAdjust="spacing" stroke="#1b1e29" stroke-width="0.25">124,000.00</text>
<text x="1534" y="143.8" font-size="10.1" fill="#1b1e29" textLength="57.9" lengthAdjust="spacing" stroke="#1b1e29" stroke-width="0.25">122,000.00</text>
<text x="1534" y="185.8" font-size="10.1" fill="#1b1e29" textLength="57.9" lengthAdjust="spacing" stroke="#1b1e29" stroke-width="0.25">120,000.00</text>
<text x="1534" y="229.3" font-size="10.1" fill="#1b1e29" textLength="56.5" lengthAdjust="spacing" stroke="#1b1e29" stroke-width="0.25">118,000.00</text>
<text x="1534" y="273.0" font-size="10.1" fill="#1b1e29" textLength="56.5" lengthAdjust="spacing" stroke="#1b1e29" stroke-width="0.25">116,000.00</text>
<text x="1534" y="317.5" font-size="10.1" fill="#1b1e29" textLength="56.5" lengthAdjust="spacing" stroke="#1b1e29" stroke-width="0.25">114,000.00</text>
<text x="1534" y="408.9" font-size="10.1" fill="#1b1e29" textLength="56.5" lengthAdjust="spacing" stroke="#1b1e29" stroke-width="0.25">110,000.00</text>
<text x="1534" y="455.9" font-size="10.1" fill="#1b1e29" textLength="57.9" lengthAdjust="spacing" stroke="#1b1e29" stroke-width="0.25">108,000.00</text>
<text x="1534" y="491.3" font-size="10.1" fill="#1b1e29" textLength="57.9" lengthAdjust="spacing" stroke="#1b1e29" stroke-width="0.25">106,500.00</text>
<text x="1534" y="528.0" font-size="10.1" fill="#1b1e29" textLength="57.9" lengthAdjust="spacing" stroke="#1b1e29" stroke-width="0.25">105,000.00</text>
<text x="1534" y="557.4" font-size="10.1" fill="#1b1e29" textLength="57.9" lengthAdjust="spacing" stroke="#1b1e29" stroke-width="0.25">103,800.00</text>
<text x="1534" y="587.2" font-size="10.1" fill="#1b1e29" textLength="57.9" lengthAdjust="spacing" stroke="#1b1e29" stroke-width="0.25">102,600.00</text>
<text x="1534" y="617.2" font-size="10.1" fill="#1b1e29" textLength="56.5" lengthAdjust="spacing" stroke="#1b1e29" stroke-width="0.25">101,400.00</text>
<text x="1534" y="647.7" font-size="10.1" fill="#1b1e29" textLength="57.9" lengthAdjust="spacing" stroke="#1b1e29" stroke-width="0.25">100,200.00</text>
<text x="1534" y="679.9" font-size="10.1" fill="#1b1e29" textLength="52.8" lengthAdjust="spacing" stroke="#1b1e29" stroke-width="0.25">98,950.00</text>
<text x="1534" y="705.3" font-size="10.1" fill="#1b1e29" textLength="52.8" lengthAdjust="spacing" stroke="#1b1e29" stroke-width="0.25">97,950.00</text>
<text x="1534" y="732.3" font-size="10.1" fill="#1b1e29" textLength="52.8" lengthAdjust="spacing" stroke="#1b1e29" stroke-width="0.25">96,950.00</text>
<text x="1534" y="758.5" font-size="10.1" fill="#1b1e29" textLength="52.8" lengthAdjust="spacing" stroke="#1b1e29" stroke-width="0.25">95,950.00</text>
<text x="1534" y="785.5" font-size="10.1" fill="#1b1e29" textLength="52.8" lengthAdjust="spacing" stroke="#1b1e29" stroke-width="0.25">94,950.00</text>
<text x="1534" y="812.6" font-size="10.1" fill="#1b1e29" textLength="52.8" lengthAdjust="spacing" stroke="#1b1e29" stroke-width="0.25">93,950.00</text>
<text x="1534" y="839.7" font-size="10.1" fill="#1b1e29" textLength="52.8" lengthAdjust="spacing" stroke="#1b1e29" stroke-width="0.25">92,950.00</text>
<text x="1534" y="866.1" font-size="10.1" fill="#1b1e29" textLength="52.8" lengthAdjust="spacing" stroke="#1b1e29" stroke-width="0.25">92,000.00</text>
<rect x="1527" y="337" width="69" height="26.6" fill="#ee4a30"/>
<text x="1535" y="347.8" font-size="10.4" fill="#fff" stroke="#fff" stroke-width="0.25" textLength="55.6" lengthAdjust="spacing">112,663.69</text>
<text x="1534" y="360" font-size="10.4" fill="#fbd0c8" textLength="47.8" lengthAdjust="spacingAndGlyphs">04:08:43</text>
<text x="94.9" y="899.6" font-size="10.2" font-weight="700" fill="#14161f" stroke="#14161f" stroke-width="0.25" textLength="22" lengthAdjust="spacingAndGlyphs">May</text>
<text x="359.9" y="899.6" font-size="10.2" font-weight="700" fill="#14161f" stroke="#14161f" stroke-width="0.25" textLength="19.3" lengthAdjust="spacingAndGlyphs">Jun</text>
<text x="616.5" y="899.6" font-size="10.2" font-weight="700" fill="#14161f" stroke="#14161f" stroke-width="0.25" textLength="16.1" lengthAdjust="spacingAndGlyphs">Jul</text>
<text x="877.9" y="899.6" font-size="10.2" font-weight="700" fill="#14161f" stroke="#14161f" stroke-width="0.25" textLength="20.7" lengthAdjust="spacingAndGlyphs">Aug</text>
<text x="1141.4" y="899.6" font-size="10.2" font-weight="700" fill="#14161f" stroke="#14161f" stroke-width="0.25" textLength="20.7" lengthAdjust="spacingAndGlyphs">Sep</text>
<text x="1397.7" y="899.6" font-size="10.2" font-weight="700" fill="#14161f" stroke="#14161f" stroke-width="0.25" textLength="18.4" lengthAdjust="spacingAndGlyphs">Oct</text>
</g>
<g fill="none" stroke="#1b1e29" stroke-width="1.05" stroke-linejoin="round" filter="url(#tf)"><path d="M1558.4 895.8l3.1 -5.35h6.2l3.1 5.35l-3.1 5.35h-6.2z"/><circle cx="1564.6" cy="895.8" r="2.3"/></g>
</svg></body></html>
